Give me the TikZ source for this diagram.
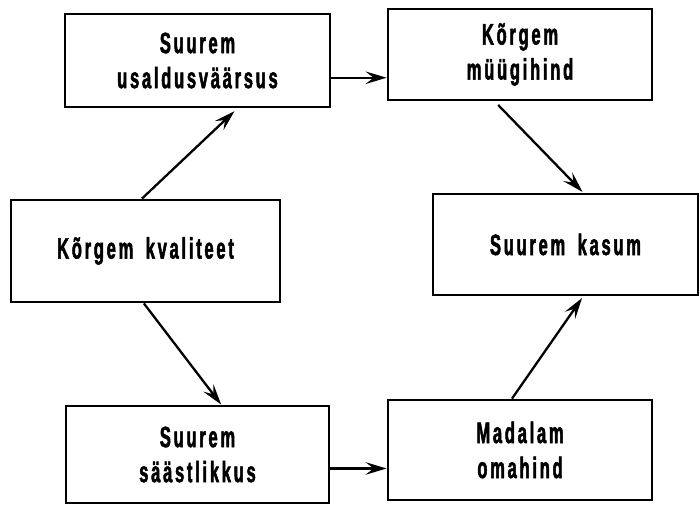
\documentclass[tikz,border=0pt]{standalone}
\usepackage{fontspec}
\newfontfamily\boxfont{Liberation Sans}[FakeStretch=0.56,LetterSpace=9.3,FakeBold=1.7,WordSpace=1.7]
\usetikzlibrary{arrows.meta,calc}
\tikzset{
  box/.style={draw=black, line width=2.8pt, fill=white, inner sep=0pt, align=center,
    font=\boxfont\bfseries\fontsize{29.5}{35}\selectfont},
  arr/.style={draw=black, line width=2.3pt, -{Stealth[length=21pt,width=12.5pt,inset=8pt]}}
}
\begin{document}
\begin{tikzpicture}[x=1pt,y=-1pt]
\useasboundingbox (0,0) rectangle (699,505);
\node[box, minimum width=265pt, minimum height=93pt] (b1) at (197.5,60.5) {Suurem\\usaldusväärsus};
\node[box, minimum width=264pt, minimum height=91pt] (b2) at (520,54.5) {Kõrgem\\müügihind};
\node[box, minimum width=269pt, minimum height=102pt] (b3) at (145.5,251) {Kõrgem kvaliteet};
\node[box, minimum width=265pt, minimum height=101pt] (b4) at (565.5,244.5) {Suurem kasum};
\node[box, minimum width=263pt, minimum height=97pt] (b5) at (197.5,454.5) {Suurem\\säästlikkus};
\node[box, minimum width=264pt, minimum height=100pt] (b6) at (520,450) {Madalam\\omahind};
% arrows
\draw[arr, shorten >=4pt] ($(b3.north west)!0.487!(b3.north east)$) -- ($(b1.south west)!0.649!(b1.south east)$);
\draw[arr] ($(b1.north east)!0.68!(b1.south east)$) coordinate (t1) -- (t1 -| b2.west);
\draw[arr, shorten <=5pt, shorten >=1pt] ($(b2.south west)!0.405!(b2.south east)$) -- ($(b4.north west)!0.566!(b4.north east)$);
\draw[arr] ($(b3.south west)!0.494!(b3.south east)$) -- ($(b5.north west)!0.589!(b5.north east)$);
\draw[arr] ($(b5.north east)!0.64!(b5.south east)$) coordinate (t2) -- (t2 -| b6.west);
\draw[arr, shorten >=2pt] ($(b6.north west)!0.47!(b6.north east)$) -- ($(b4.south west)!0.566!(b4.south east)$);
\end{tikzpicture}
\end{document}
